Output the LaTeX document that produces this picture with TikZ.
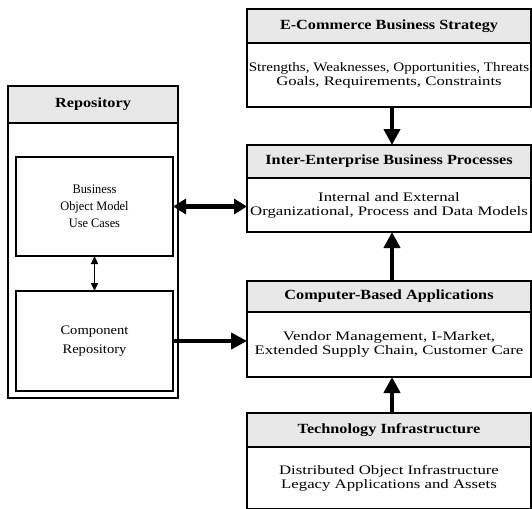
\documentclass[tikz,border=0pt]{standalone}
\usepackage{fontspec}
\setmainfont{Liberation Serif}
\newfontfamily\hdrfont[FakeStretch=1.16]{Liberation Serif}
\newfontfamily\bodyfont[FakeStretch=1.29]{Liberation Serif}
\newfontfamily\bomfont[FakeStretch=0.95]{Liberation Serif}
\newfontfamily\compfont[FakeStretch=1.12]{Liberation Serif}
\usetikzlibrary{positioning,arrows.meta}
\definecolor{hdrgray}{RGB}{232,232,232}

\begin{document}
\begin{tikzpicture}[x=1pt, y=-1pt,
  hdr/.style={rectangle, draw, line width=1.3pt, fill=hdrgray, outer sep=0pt,
              minimum width=284pt, inner sep=0pt,
              font=\hdrfont\fontsize{14}{16}\selectfont\bfseries},
  body/.style={rectangle, draw, line width=1.3pt, fill=white, outer sep=0pt,
               minimum width=284pt, align=center, inner sep=0pt,
               font=\bodyfont\fontsize{13}{14}\selectfont},
  rhdr/.style={hdr, minimum width=170pt},
  rbody/.style={body, minimum width=170pt},
  box/.style={rectangle, draw, line width=1.3pt, outer sep=0pt,
              minimum width=157pt, align=center, inner sep=0pt},
  arr/.style={-{Triangle[length=16pt,width=16pt]}, line width=4.5pt},
  darr/.style={{Triangle[length=13pt,width=15pt]}-{Triangle[length=13pt,width=15pt]}, line width=4.5pt},
  sarr/.style={{Triangle[length=8pt,width=7pt]}-{Triangle[length=8pt,width=7pt]}, line width=1.5pt}
]
\useasboundingbox (0,0) rectangle (532,508);
\clip (0,0) rectangle (532,508);

% right column
\node[hdr, minimum height=34pt, anchor=north] (ecH) at (389,9) {E-Commerce Business Strategy};
\node[body, minimum height=64pt, below=0pt of ecH] (ecB) {\scalebox{0.9}[1]{Strengths, Weaknesses, Opportunities, Threats}\\Goals, Requirements, Constraints};
\node[hdr, minimum height=33pt, anchor=north] (ieH) at (389,145) {Inter-Enterprise Business Processes};
\node[body, minimum height=54pt, below=0pt of ieH] (ieB) {Internal and External\\Organizational, Process and Data Models};
\node[hdr, minimum height=31pt, anchor=north] (cbH) at (389,281) {Computer-Based Applications};
\node[body, minimum height=65pt, below=0pt of cbH] (cbB) {Vendor Management, I-Market,\\Extended Supply Chain, Customer Care};
\node[hdr, minimum height=34pt, anchor=north] (tiH) at (389,413) {Technology Infrastructure};
\node[body, minimum height=62pt, below=0pt of tiH] (tiB) {Distributed Object Infrastructure\\Legacy Applications and Assets};

% repository
\node[rhdr, minimum height=37pt, anchor=north west] (repH) at (8,86) {Repository};
\node[rbody, minimum height=275pt, below=0pt of repH] (repB) {};
\draw[line width=2.5pt] (repH.south west) -- (repH.south east);
\node[box, minimum height=99pt, anchor=north west, font=\bomfont\fontsize{13}{17}\selectfont] (bom) at (16,157) {Business\\Object Model\\Use Cases};
\node[box, minimum height=100pt, anchor=north west, font=\compfont\fontsize{13}{19}\selectfont] (comp) at (16,291) {Component\\Repository};

% arrows
\draw[arr] ([xshift=3pt]ecB.south) -- ([xshift=3pt]ieH.north);
\draw[arr] ([xshift=3pt]cbH.north) -- ([xshift=3pt]ieB.south);
\draw[arr] ([xshift=3pt]tiH.north) -- ([xshift=3pt]cbB.south);
\draw[darr] (bom.east) -- (bom.east -| ieB.west);
\draw[arr] (comp.east) -- (comp.east -| cbB.west);
\draw[sarr] (bom.south) -- (comp.north);
\end{tikzpicture}
\end{document}
